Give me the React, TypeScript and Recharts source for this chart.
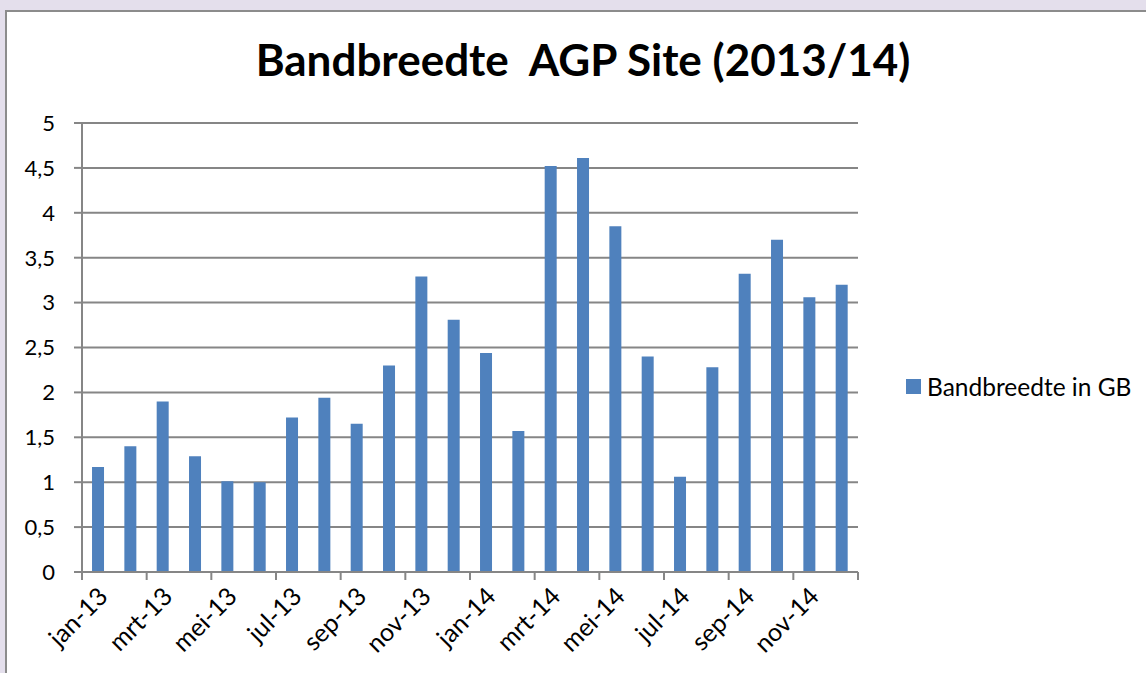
import { BarChart, Bar, XAxis, YAxis, CartesianGrid } from "recharts";

const months = [
  "jan-13", "feb-13", "mrt-13", "apr-13", "mei-13", "jun-13",
  "jul-13", "aug-13", "sep-13", "okt-13", "nov-13", "dec-13",
  "jan-14", "feb-14", "mrt-14", "apr-14", "mei-14", "jun-14",
  "jul-14", "aug-14", "sep-14", "okt-14", "nov-14", "dec-14",
];

const bandwidth = [
  1.17, 1.4, 1.9, 1.29, 1.01, 1.0,
  1.72, 1.94, 1.65, 2.3, 3.29, 2.81,
  2.44, 1.57, 4.52, 4.61, 3.85, 2.4,
  1.06, 2.28, 3.32, 3.7, 3.06, 3.2,
];

const yTicks = [0, 0.5, 1, 1.5, 2, 2.5, 3, 3.5, 4, 4.5, 5];

const data = months.map((m, i) => ({ month: m, gb: bandwidth[i] }));

const W = 1146;
const H = 673;
const LEFT = 82;
const RIGHT = 858;
const TOP = 123;
const BOTTOM = 572;
const BAND = (RIGHT - LEFT) / months.length;

const GRID = "#868686";
const BLUE = "#4f81bd";
const FONT = "Lato, 'Open Sans', sans-serif";

function XTick(props: any) {
  const { x, y, index, payload } = props;
  const marks = [];
  const tx = x + 4;
  const ty = y + 19;
  if (index % 2 === 0) {
    marks.push(
      <line key="l" x1={x - BAND / 2} x2={x - BAND / 2} y1={y} y2={y + 8} stroke={GRID} strokeWidth={2} />
    );
    marks.push(
      <text
        key="t"
        x={tx}
        y={ty}
        transform={`rotate(-45, ${tx}, ${ty})`}
        textAnchor="end"
        dominantBaseline="central"
        fontSize={25}
        fontFamily={FONT}
        fill="#000"
      >
        {payload.value}
      </text>
    );
  }
  if (index === months.length - 1) {
    marks.push(
      <line key="r" x1={x + BAND / 2} x2={x + BAND / 2} y1={y} y2={y + 8} stroke={GRID} strokeWidth={2} />
    );
  }
  return <g>{marks}</g>;
}

export default function App() {
  return (
    <div
      style={{
        position: "fixed",
        left: 0,
        top: 0,
        width: W,
        height: H,
        background: "#e4dfec",
        overflow: "hidden",
      }}
    >
      <div
        style={{
          position: "absolute",
          left: 5,
          top: 10,
          width: W + 20,
          height: H + 20,
          border: "2px solid #8c8c8c",
          background: "#fff",
        }}
      />
      <div
        style={{
          position: "absolute",
          left: 0,
          width: 1166,
          top: 33,
          textAlign: "center",
          fontFamily: FONT,
          fontWeight: 700,
          fontSize: 44,
          whiteSpace: "pre",
          color: "#000",
        }}
      >
        {"Bandbreedte  AGP Site (2013/14)"}
      </div>
      <div style={{ position: "absolute", left: 0, top: 0 }}>
        <BarChart
          width={W}
          height={H}
          data={data}
          margin={{ top: TOP, right: W - RIGHT, bottom: 0, left: 0 }}
          barCategoryGap="31%"
        >
          <CartesianGrid vertical={false} stroke={GRID} strokeWidth={2} />
          <XAxis
            dataKey="month"
            interval={0}
            tickLine={false}
            tickSize={0}
            tickMargin={0}
            axisLine={{ stroke: GRID, strokeWidth: 2 }}
            tick={<XTick />}
            height={H - BOTTOM}
          />
          <YAxis
            width={LEFT}
            domain={[0, 5]}
            ticks={yTicks}
            interval={0}
            tickSize={8}
            tickMargin={19}
            tickLine={{ stroke: GRID, strokeWidth: 2 }}
            axisLine={{ stroke: GRID, strokeWidth: 2 }}
            tickFormatter={(v: number) => String(v).replace(".", ",")}
            tick={{ fill: "#000", fontSize: 22, fontFamily: FONT }}
          />
          <Bar dataKey="gb" fill={BLUE} isAnimationActive={false} />
        </BarChart>
      </div>
      <div
        style={{
          position: "absolute",
          left: 906,
          top: 372,
          display: "flex",
          alignItems: "center",
          fontFamily: FONT,
          fontSize: 24.5,
          color: "#000",
        }}
      >
        <span style={{ display: "inline-block", width: 15, height: 15, background: BLUE, marginRight: 6 }} />
        Bandbreedte in GB
      </div>
    </div>
  );
}
